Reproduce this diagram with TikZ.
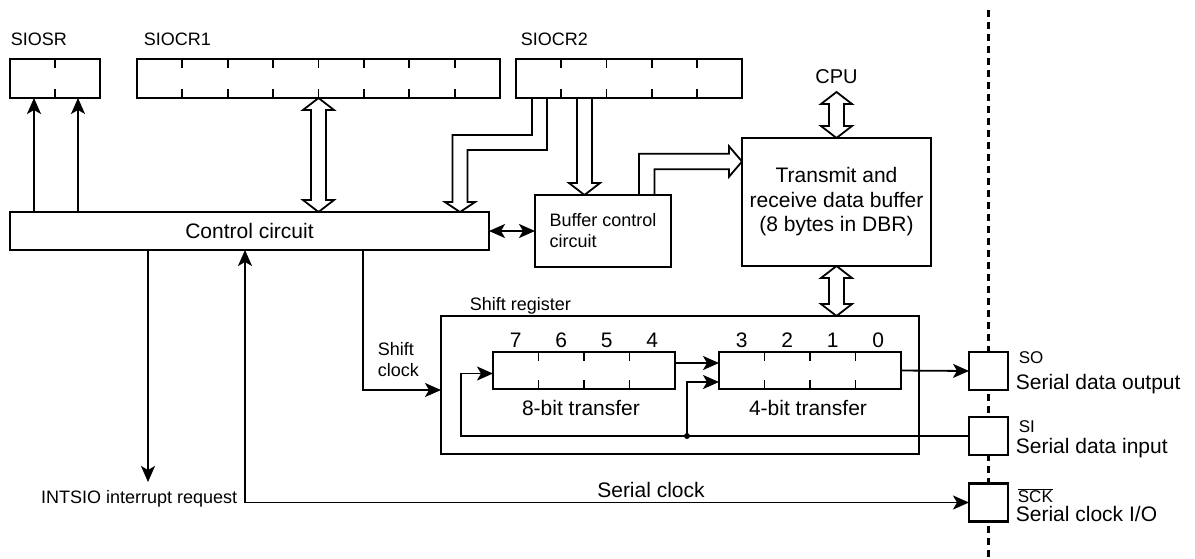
\documentclass[tikz,border=0pt]{standalone}
\usepackage{fontspec}
\setmainfont{Liberation Sans}
\usetikzlibrary{arrows.meta,calc}
\newcommand\vdblarr[2]{\draw[hollow] (#1) -- ++(15.5,12) -- ++(-8,0) -- ($(#2)+(7.5,-12)$) -- ++(8,0) -- (#2) -- ++(-15.5,-12) -- ++(8,0) -- ($(#1)+(-7.5,12)$) -- ++(-8,0) -- cycle;}
\begin{document}
\begin{tikzpicture}[x=1pt,y=-1pt,
  line width=1.8pt,
  box/.style={draw, line width=1.8pt, fill=white, inner sep=0pt, outer sep=0pt},
  pinbox/.style={draw, line width=2.6pt, fill=white, inner sep=0pt, outer sep=0pt, minimum width=39pt, minimum height=38pt},
  big/.style={font=\fontsize{21}{24.5}\selectfont, inner sep=0pt},
  small/.style={font=\fontsize{18}{21}\selectfont, inner sep=0pt},
  pinlab/.style={font=\fontsize{17}{20}\selectfont, inner sep=0pt},
  arr/.style={-{Stealth[length=16pt,width=14pt,inset=4pt]}},
  darr/.style={{Stealth[length=16pt,width=14pt,inset=4pt]}-{Stealth[length=16pt,width=14pt,inset=4pt]}},
  hollow/.style={draw, fill=white, line width=1.8pt, line join=miter},
  tick/.style={line width=1.8pt},
]
\useasboundingbox (0,0) rectangle (1195,558);

% registers
\node[box, minimum width=90pt, minimum height=39pt] (siosr) at (55,78.5) {};
\node[box, minimum width=363pt, minimum height=39pt] (siocr1) at (318.5,78.5) {};
\node[box, minimum width=226pt, minimum height=39pt] (siocr2) at (629,78.5) {};
\node[small, anchor=base west] (lsiosr) at (10,45) {SIOSR};
\node[small, anchor=base west] (lsiocr1) at (143,45) {SIOCR1};
\node[small, anchor=base west] (lsiocr2) at (520,45) {SIOCR2};

\draw[tick] ($(siosr.north west)+(45,0)$) -- ++(0,9) ($(siosr.south west)+(45,0)$) -- ++(0,-9);
\foreach \k in {1,...,7} {\draw[tick] ($(siocr1.north west)+(45.375*\k,0)$) -- ++(0,9) ($(siocr1.south west)+(45.375*\k,0)$) -- ++(0,-9);}
\foreach \k in {1,...,4} {\draw[tick] ($(siocr2.north west)+(45.2*\k,0)$) -- ++(0,9) ($(siocr2.south west)+(45.2*\k,0)$) -- ++(0,-9);}

% blocks
\node[box, big, minimum width=479pt, minimum height=38pt] (ctrl) at (249.5,231) {Control circuit};
\node[box, small, align=left, minimum width=136pt, minimum height=72pt] (buf) at (603,231) {Buffer control\\circuit};
\node[box, big, align=center, minimum width=189pt, minimum height=128pt] (dbr) at (836.5,202) {Transmit and\\receive data buffer\\(8 bytes in DBR)};
\node[font=\fontsize{20}{24}\selectfont, inner sep=0pt, anchor=base] (cpu) at (836.5,83) {CPU};

% shift register
\node[box, minimum width=478pt, minimum height=138pt] (shreg) at (680,385) {};
\node[small, anchor=base west] (lshreg) at (469,310) {Shift register};
\node[box, minimum width=182pt, minimum height=37pt] (r8) at (584,370.5) {};
\node[box, minimum width=182pt, minimum height=37pt] (r4) at (810,370.5) {};
\foreach \k in {1,2,3} {
  \draw[tick] ($(r8.north west)+(45.5*\k,0)$) -- ++(0,9) ($(r8.south west)+(45.5*\k,0)$) -- ++(0,-9);
  \draw[tick] ($(r4.north west)+(45.5*\k,0)$) -- ++(0,9) ($(r4.south west)+(45.5*\k,0)$) -- ++(0,-9);
}
\foreach \d [count=\i] in {7,6,5,4} \node[big, anchor=base] (da\i) at ($(r8.north west)+(45.5*\i-22.75,-5)$) {\d};
\foreach \d [count=\i] in {3,2,1,0} \node[big, anchor=base] (db\i) at ($(r4.north west)+(45.5*\i-22.75,-5)$) {\d};
\node[big, anchor=base] (l8) at ($(r8.south)+(-3,26.5)$) {8-bit transfer};
\node[big, anchor=base] (l4) at ($(r4.south)+(-2,26.5)$) {4-bit transfer};

% dashed boundary and pins
\coordinate (dtop) at (988.5,10);
\coordinate (dbot) at (988.5,558);
\draw[line width=2.6pt, dash pattern=on 7pt off 5pt] (dtop) -- (dbot);
\node[pinbox] (so) at (988.5,371) {};
\node[pinbox] (si) at (988.5,436) {};
\node[pinbox] (sck) at (988.5,502.5) {};
\node[pinlab, anchor=base west] (lso) at (1018,363) {SO};
\node[big, anchor=base west] (lso2) at (1015,389) {Serial data output};
\node[pinlab, anchor=base west] (lsi) at (1018,432) {SI};
\node[big, anchor=base west] (lsi2) at (1015,453) {Serial data input};
\node[pinlab, anchor=base west] (lsck) at (1017,502) {$\overline{\mbox{SCK}}$};
\node[big, anchor=base west] (lsck2) at (1015,521.5) {Serial clock I/O};

% control -> SIOSR
\draw[arr] ($(ctrl.north west)+(24,0)$) -- ($(siosr.south west)+(24,0)$);
\draw[arr] ($(ctrl.north west)+(68,0)$) -- ($(siosr.south west)+(68,0)$);

% SIOCR1 <-> control
\coordinate (c1t) at (siocr1.south);
\coordinate (c1b) at (siocr1.south |- ctrl.north);
\vdblarr{c1t}{c1b}

% CPU <-> DBR, DBR <-> shift register
\coordinate (cput) at ($(dbr.north)+(0,-46)$);
\vdblarr{cput}{dbr.north}
\coordinate (srt) at (dbr.south |- shreg.north);
\vdblarr{dbr.south}{srt}

% SIOCR2 -> control (bent hollow)
\coordinate (s2a) at ($(siocr2.south west)+(16,0)$);
\coordinate (ctip) at ($(ctrl.north west)+(450,0)$);
\draw[hollow] (s2a) -- ++(0,37) -| ($(ctip)+(-7.5,-10)$) -- ++(-7.5,0) -- (ctip) -- ++(15,-10) -- ++(-7.5,0) |- ($(s2a)+(15,52)$) -- ++(0,-52) -- cycle;

% SIOCR2 -> buffer control
\coordinate (btop) at ($(buf.north west)+(49.5,0)$);
\coordinate (s2b) at (btop |- siocr2.south);
\draw[hollow] ($(s2b)+(-7.5,0)$) -- ($(btop)+(-7.5,-12)$) -- ++(-8,0) -- (btop) -- ++(15.5,-12) -- ++(-8,0) -- ($(s2b)+(7.5,0)$) -- cycle;

% buffer control -> DBR (bent hollow)
\coordinate (btip) at ($(dbr.north west)+(0,23.5)$);
\draw[hollow] ($(buf.north west)+(104,0)$) |- ($(btip)+(-13,-7.75)$) -- ++(0,-7.5) -- (btip) -- ++(-13,15.25) -- ++(0,-7.5) -| ($(buf.north west)+(119.5,0)$) -- cycle;

% control <-> buffer control
\draw[darr] (ctrl.east) -- (buf.west);

% interrupt request
\coordinate (irq) at ($(ctrl.south west)+(138,232)$);
\draw[arr] ($(ctrl.south west)+(138,0)$) -- (irq);
\node[small, anchor=base east] (intsio) at (238,503.5) {INTSIO interrupt request};

% serial clock
\draw[darr] (sck.west) -| ($(ctrl.south west)+(235,0)$);
\node[big, anchor=base] (lsclk) at (651,497) {Serial clock};

% shift clock
\draw[arr] ($(ctrl.south west)+(353,0)$) |- ($(shreg.west)+(0,5)$);
\node[small, align=left, anchor=north west] (lshclk) at (377,341.5) {Shift\\clock};

% data paths in shift register
\draw[arr] ($(r8.east)+(0,-7.5)$) -- ($(r4.west)+(0,-7.5)$);
\coordinate (fbx) at ($(shreg.west)+(20,0)$);
\draw[arr] (si.west) -- (si.west -| fbx) |- ($(r8.west)+(0,3)$);
\coordinate (jn) at ($(si.west -| r8.east)+(12,0)$);
\draw[arr] (jn) |- ($(r4.west)+(0,11.5)$);
\fill (jn) circle (3pt);
\draw[arr] (r4.east) -- (so.west);
\end{tikzpicture}
\end{document}
